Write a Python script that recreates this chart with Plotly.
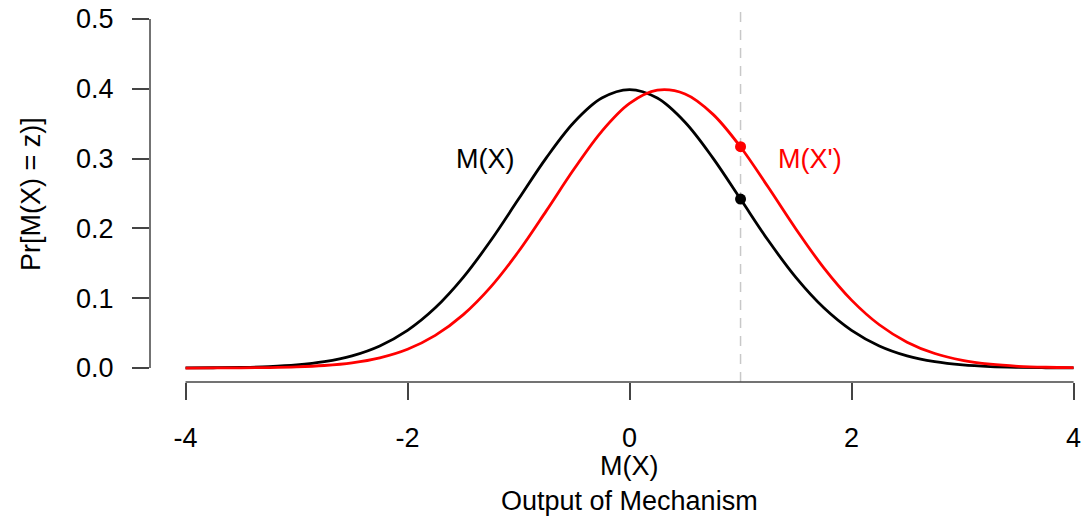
import plotly.graph_objects as go

# Data
x_vals = [-4.0, -3.75, -3.5, -3.25, -3.0, -2.75, -2.5, -2.25, -2.0, -1.75, -1.5, -1.25,
          -1.0, -0.75, -0.5, -0.25, 0.0, 0.25, 0.5, 0.75, 1.0, 1.25, 1.5, 1.75,
          2.0, 2.25, 2.5, 2.75, 3.0, 3.25, 3.5, 3.75, 4.0]
mx_vals = [0.0001, 0.0004, 0.0009, 0.0020, 0.0044, 0.0091, 0.0175, 0.0317, 0.0540, 0.0863,
           0.1295, 0.1826, 0.2420, 0.3011, 0.3521, 0.3867, 0.3989, 0.3867, 0.3521, 0.3011,
           0.2420, 0.1826, 0.1295, 0.0863, 0.0540, 0.0317, 0.0175, 0.0091, 0.0044, 0.0020,
           0.0009, 0.0004, 0.0001]
mxp_vals = [0.0000, 0.0001, 0.0003, 0.0007, 0.0016, 0.0036, 0.0075, 0.0147, 0.0270, 0.0468,
            0.0762, 0.1163, 0.1669, 0.2251, 0.2850, 0.3391, 0.3790, 0.3979, 0.3925, 0.3637,
            0.3166, 0.2589, 0.1989, 0.1435, 0.0973, 0.0620, 0.0371, 0.0208, 0.0110, 0.0055,
            0.0025, 0.0011, 0.0005]
z_value = 1.0
pt_mx = 0.242
pt_mxp = 0.317
x_ticks = [-4, -2, 0, 2, 4]
y_ticks = [0.0, 0.1, 0.2, 0.3, 0.4, 0.5]
y_ticktext = ["0.0", "0.1", "0.2", "0.3", "0.4", "0.5"]

FONT = "Liberation Sans, Arial, sans-serif"
AXC = "#444444"
FS = 27

fig = go.Figure()
fig.add_trace(go.Scatter(x=x_vals, y=mx_vals, mode="lines", line=dict(color="black", width=2.8, shape="spline"),
                         showlegend=False, hoverinfo="skip"))
fig.add_trace(go.Scatter(x=x_vals, y=mxp_vals, mode="lines", line=dict(color="#ff0000", width=2.8, shape="spline"),
                         showlegend=False, hoverinfo="skip"))
fig.add_trace(go.Scatter(x=[z_value], y=[pt_mx], mode="markers", marker=dict(color="black", size=11),
                         showlegend=False))
fig.add_trace(go.Scatter(x=[z_value], y=[pt_mxp], mode="markers", marker=dict(color="#ff0000", size=11),
                         showlegend=False))

# dashed vertical line at z
fig.add_shape(type="line", xref="x", yref="paper", x0=z_value, x1=z_value, y0=0, y1=1,
              line=dict(color="#c8c8c8", width=1.5, dash="10px,8px"), layer="below")
# R-style partial axis lines
fig.add_shape(type="line", xref="x", yref="paper", x0=x_ticks[0], x1=x_ticks[-1], y0=0, y1=0,
              line=dict(color=AXC, width=1.5))
fig.add_shape(type="line", xref="paper", yref="y", x0=0, x1=0, y0=y_ticks[0], y1=y_ticks[-1],
              line=dict(color=AXC, width=1.5))

fig.add_annotation(x=-1.30, y=0.30, xref="x", yref="y", text="M(X)", showarrow=False,
                   font=dict(family=FONT, size=FS, color="black"))
fig.add_annotation(x=1.63, y=0.30, xref="x", yref="y", text="M(X')", showarrow=False,
                   font=dict(family=FONT, size=FS, color="#ff0000"))
fig.add_annotation(x=0, y=-0.269, xref="x", yref="paper", text="M(X)<br>Output of Mechanism",
                   showarrow=False, yanchor="middle",
                   font=dict(family=FONT, size=FS, color="black"))
fig.add_annotation(x=-0.128, y=0.5, xref="paper", yref="paper", text="Pr[M(X) = z)]",
                   showarrow=False, textangle=-90, xanchor="center", yanchor="middle",
                   font=dict(family=FONT, size=FS, color="black"))

fig.update_layout(
    width=1084, height=517,
    margin=dict(l=150, r=0, t=5, b=135),
    paper_bgcolor="white", plot_bgcolor="white",
    font=dict(family=FONT, size=FS, color="black"),
    xaxis=dict(range=[-4.32, 4.094], tickvals=x_ticks, ticktext=[str(v) for v in x_ticks],
               showgrid=False, zeroline=False, showline=False,
               ticks="outside", ticklen=17, tickwidth=1.5, tickcolor=AXC,
               ticklabelstandoff=15, tickfont=dict(family=FONT, size=FS, color="black")),
    yaxis=dict(range=[-0.02, 0.52], tickvals=y_ticks, ticktext=y_ticktext,
               showgrid=False, zeroline=False, showline=False,
               ticks="outside", ticklen=17, tickwidth=1.5, tickcolor=AXC,
               ticklabelstandoff=13, tickfont=dict(family=FONT, size=FS, color="black")),
)

fig.write_html("out.html", config={"displayModeBar": False},
               post_script="document.body.style.margin='0px';")
